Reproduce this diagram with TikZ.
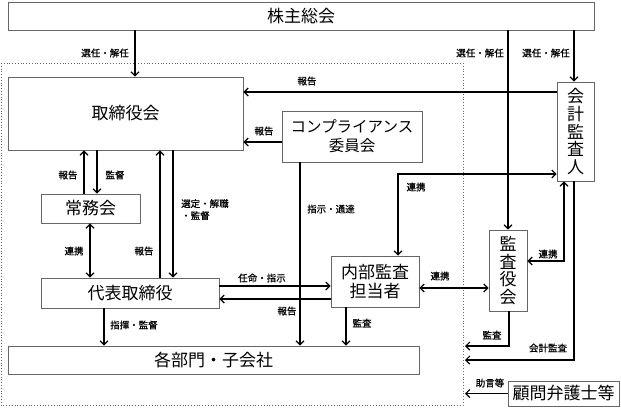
\documentclass[tikz,border=0pt]{standalone}
\usepackage{fontspec}
\setmainfont{Noto Sans CJK JP}
\newfontfamily\lblfont[FakeBold=0.8]{Noto Sans CJK JP}
\usetikzlibrary{arrows.meta, positioning, calc}

\begin{document}
\begin{tikzpicture}[
    x=1pt, y=-1pt,
    box/.style={draw=black!60, line width=0.8pt, inner sep=0pt, align=center,
                font=\fontsize{17}{17.6}\selectfont},
    lbl/.style={inner sep=0pt, font=\lblfont\fontsize{9.5}{12}\selectfont},
    arr/.style={-{Straight Barb[length=4pt, width=8pt, line width=1.2pt]}, line width=1.4pt},
    arrb/.style={{Straight Barb[length=4pt, width=8pt, line width=1.2pt]}-{Straight Barb[length=4pt, width=8pt, line width=1.2pt]}, line width=1.4pt},
]
\useasboundingbox (0,0) rectangle (621,408);

% audit area
\draw[black!60, dotted, line width=0.8pt] (1,63) rectangle (463,405);

\node[box, minimum width=586pt, minimum height=28pt] (soukai) at (301,16) {株主総会};
\node[box, minimum width=235pt, minimum height=73pt] (torishimari) at (125.5,113.5) {取締役会};
\node[box, minimum width=140pt, minimum height=51pt,
      font=\fontsize{15.5}{19}\selectfont] (compliance) at (352,136.5)
    {コンプライアンス\\委員会};
\node[box, minimum width=99pt, minimum height=29pt] (joumu) at (90.5,208.5) {常務会};
\node[box, minimum width=178pt, minimum height=30pt] (daihyo) at (130,293) {代表取締役};
\node[box, minimum width=88pt, minimum height=51pt,
      font=\fontsize{17}{19}\selectfont] (naibu) at (375,281.5) {内部監査\\担当者};
\node[box, minimum width=411pt, minimum height=28pt] (kakubumon) at (213.5,360) {各部門・子会社};
\node[box, minimum width=37pt, minimum height=99pt] (kaikei) at (575.5,131.5) {会\\計\\監\\査\\人};
\node[box, minimum width=38pt, minimum height=81pt] (kansayaku) at (508,270.5) {監\\査\\役\\会};
\node[box, minimum width=111pt, minimum height=25pt] (komon) at (563.5,393.5) {顧問弁護士等};

\coordinate (kansa) at (465,346);
\coordinate (kaikeikansa) at (465,360);
\coordinate (jogen) at (465,393);

% from the shareholders
\draw[arr] (soukai.south -| 135,0) -- (torishimari.north -| 135,0);
\draw[arr] (soukai.south -| 508,0) -- (kansayaku.north);
\draw[arr] (soukai.south -| 574,0) -- (kaikei.north -| 574,0);
\node[lbl, anchor=east] (sn1) at (129,53) {選任・解任};
\node[lbl, anchor=east] (sn2) at (504,53) {選任・解任};
\node[lbl, anchor=east] (sn3) at (570,53) {選任・解任};

% board
\draw[arr] (kaikei.west |- 0,92) -- (torishimari.east |- 0,92);
\node[lbl] (hk1) at (307,81) {報告};
\draw[arr] (compliance.west |- 0,142) -- (torishimari.east |- 0,142);
\node[lbl] (hk2) at (264,131) {報告};
\draw[arr] (compliance.south -| 300,0) -- (kakubumon.north -| 300,0);
\node[lbl, anchor=west] (sj) at (307,209) {指示・通達};

\draw[arr] (joumu.north -| 84,0) -- (torishimari.south -| 84,0);
\node[lbl] (hk3) at (68,175) {報告};
\draw[arr] (torishimari.south -| 97,0) -- (joumu.north -| 97,0);
\node[lbl] (kt1) at (115,175) {監督};
\draw[arrb] (joumu.south -| 90,0) -- (daihyo.north -| 90,0);
\node[lbl] (rk1) at (74,251) {連携};
\draw[arr] (daihyo.north -| 160,0) -- (torishimari.south -| 160,0);
\node[lbl] (hk4) at (144,251) {報告};
\draw[arr] (torishimari.south -| 173,0) -- (daihyo.north -| 173,0);
\node[lbl, anchor=north west, align=left] (sk) at (181,199) {選定・解職\\・監督};

% representative director
\draw[arr] (daihyo.east |- 0,286) -- (naibu.west |- 0,286);
\node[lbl] (nm) at (262,278) {任命・指示};
\draw[arr] (naibu.west |- 0,299) -- (daihyo.east |- 0,299);
\node[lbl] (hk5) at (287,311) {報告};
\draw[arr] (daihyo.south -| 104,0) -- (kakubumon.north -| 104,0);
\node[lbl, anchor=west] (sk2) at (110,325) {指揮・監督};
\draw[arr] (naibu.south -| 346,0) -- (kakubumon.north -| 346,0);
\node[lbl] (ks1) at (362,323) {監査};

% auditors
\draw[arrb] (kaikei.west |- 0,174) -| (naibu.north -| 398,0);
\node[lbl] (rk2) at (416,187) {連携};
\draw[arrb] (naibu.east |- 0,288) -- (kansayaku.west |- 0,288);
\node[lbl] (rk3) at (440,276) {連携};
\draw[arrb] (kansayaku.east |- 0,261) -| (kaikei.south -| 564,0);
\node[lbl] (rk4) at (548,254) {連携};
\draw[arr] (kansayaku.south -| 509,0) |- (kansa);
\node[lbl] (ks2) at (492,335) {監査};
\draw[arr] (kaikei.south -| 574,0) |- (kaikeikansa);
\node[lbl] (kk) at (548,348) {会計監査};
\draw[arr] (komon.west) -- (komon.west -| jogen);
\node[lbl] (jg) at (490,383) {助言等};

\end{tikzpicture}
\end{document}
